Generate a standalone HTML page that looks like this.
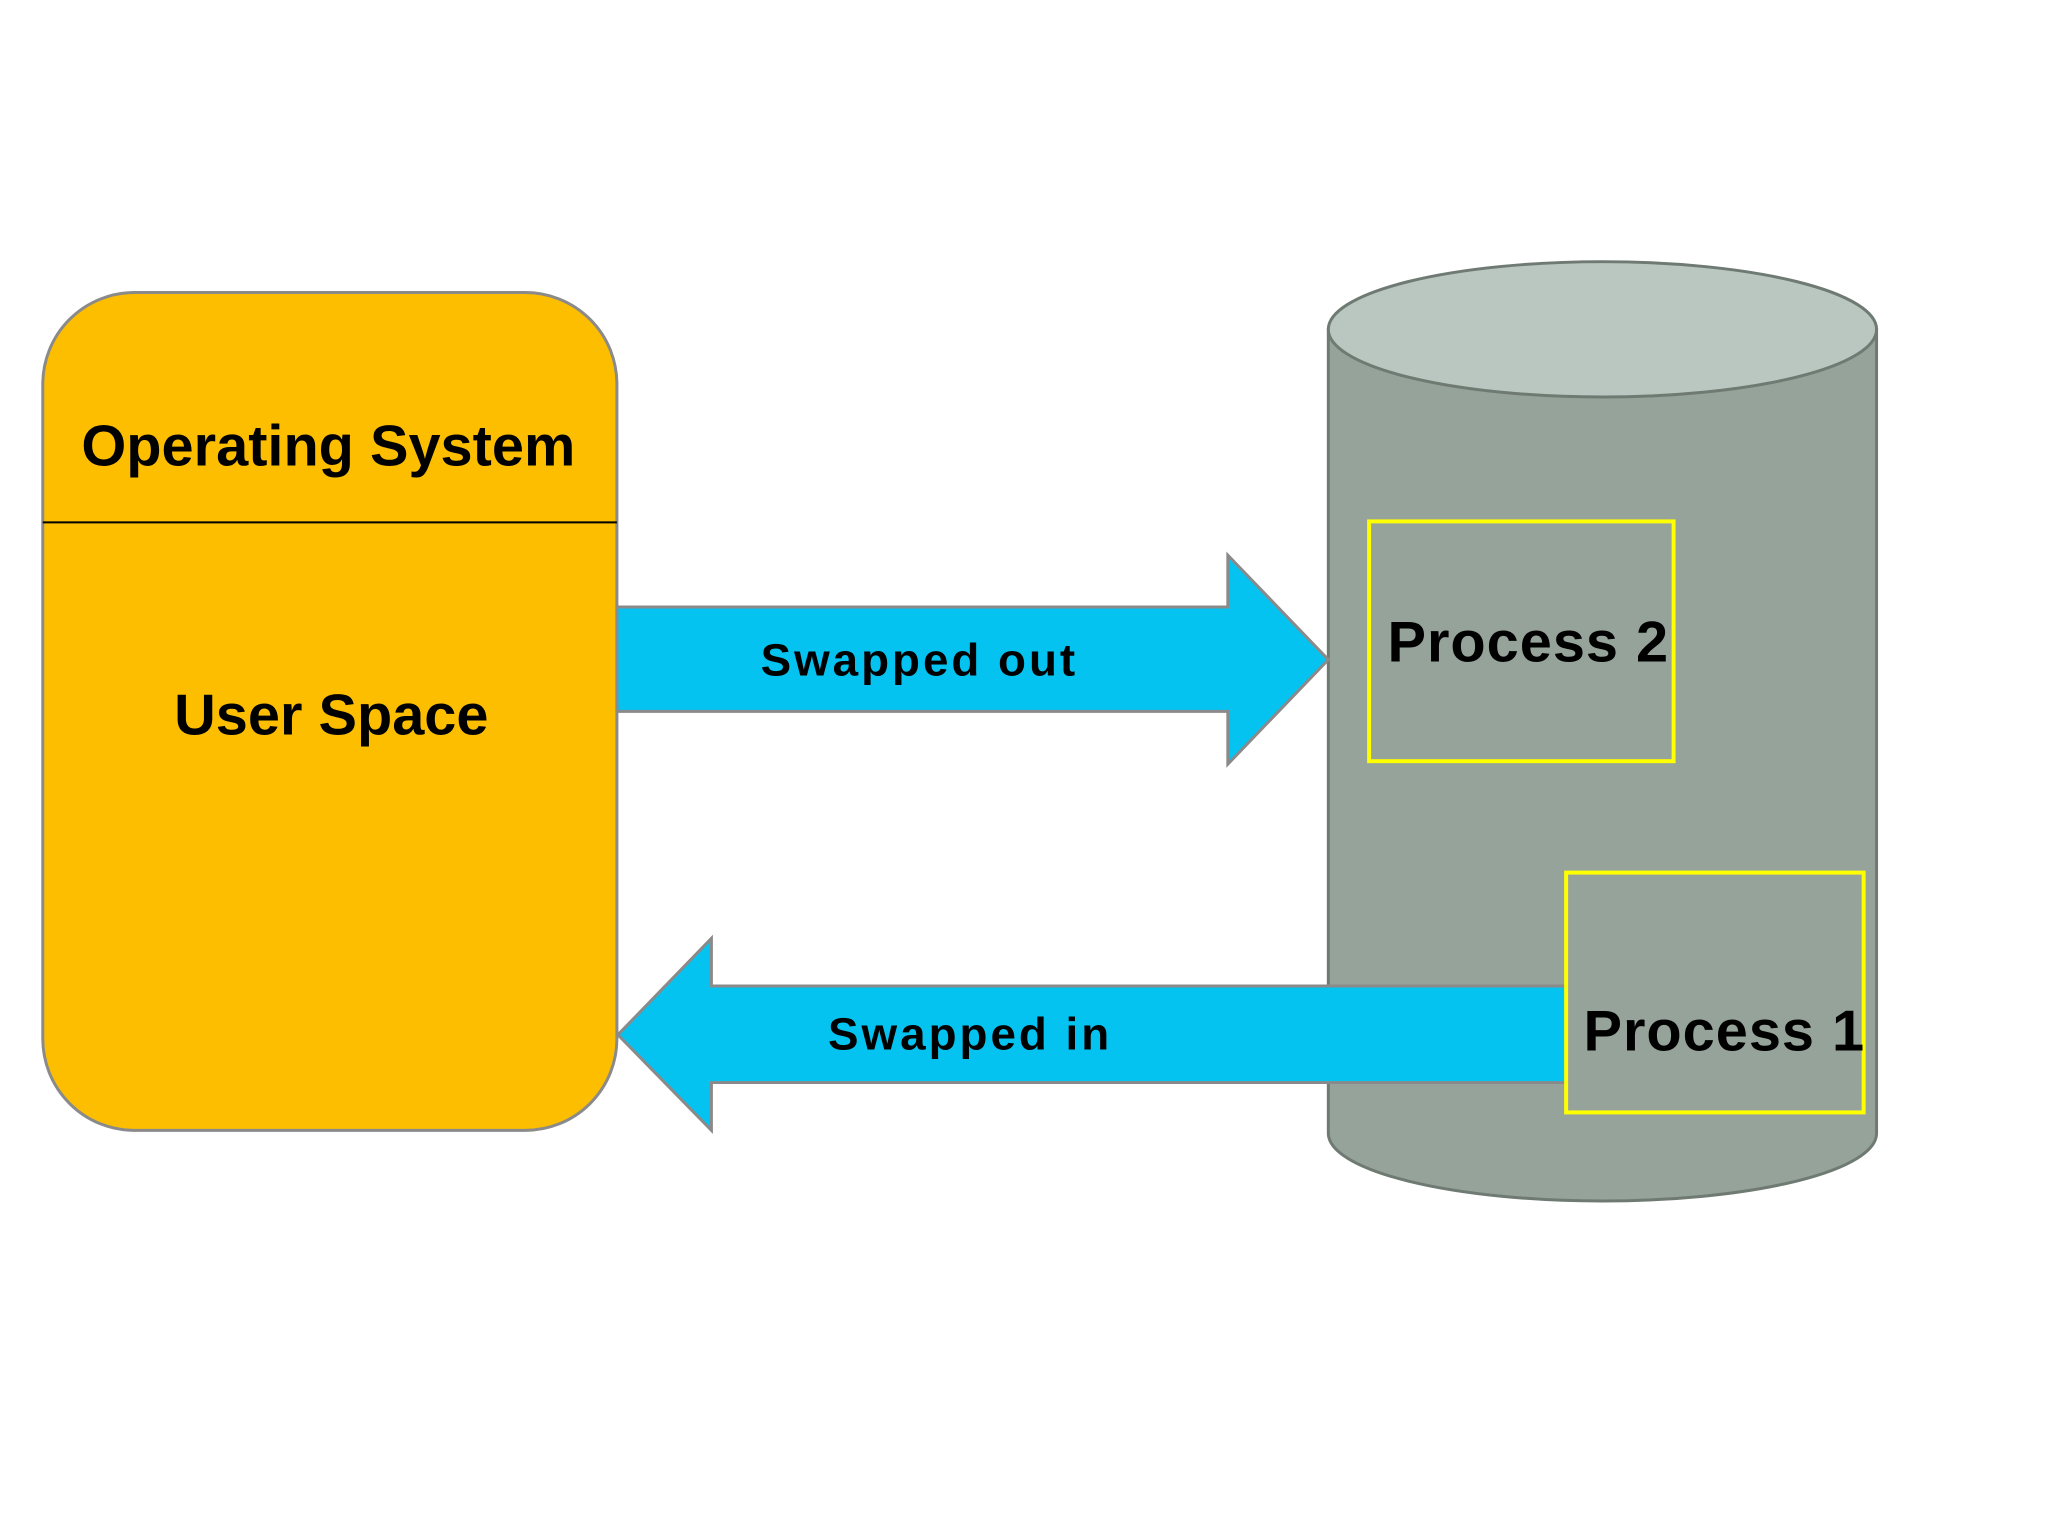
<!DOCTYPE html>
<html><head><meta charset="utf-8"><style>html,body{margin:0;padding:0;background:#fff}svg{display:block}</style></head>
<body>
<svg width="2048" height="1536" viewBox="0 0 2048 1536" xmlns="http://www.w3.org/2000/svg" font-family="'Liberation Sans',sans-serif" font-weight="bold">
<rect width="2048" height="1536" fill="#fff"/>
<g transform="scale(0.995)">
<!-- cylinder -->
<path d="M1335 331 L1335 1139 A275.5 68 0 0 0 1886 1139 L1886 331 Z" fill="#95A39A" stroke="#6f7a73" stroke-width="3"/>
<ellipse cx="1610.5" cy="331" rx="275.5" ry="68" fill="#BAC6C0" stroke="#6f7a73" stroke-width="3"/>
<!-- OS box -->
<rect x="43" y="294" width="577" height="842" rx="92" fill="#FDBE00" stroke="#8a8a8a" stroke-width="3"/>
<line x1="43" y1="525" x2="620" y2="525" stroke="#000" stroke-width="2"/>
<text x="330" y="468" font-size="58" text-anchor="middle" fill="#000">Operating System</text>
<text x="333" y="738" font-size="58" text-anchor="middle" fill="#000">User Space</text>
<!-- arrow out -->
<path d="M620 610 L1234 610 L1234 558 L1335 663 L1234 768 L1234 715 L620 715 Z" fill="#05C3F0" stroke="#8a8a8a" stroke-width="3"/>
<text x="924" y="679" font-size="46" text-anchor="middle" fill="#000" letter-spacing="3">Swapped out</text>
<!-- arrow in -->
<path d="M1575 991 L715 991 L715 943 L621 1040 L715 1136 L715 1088 L1575 1088 Z" fill="#05C3F0" stroke="#8a8a8a" stroke-width="3"/>
<text x="975" y="1055" font-size="46" text-anchor="middle" fill="#000" letter-spacing="3">Swapped in</text>
<!-- process boxes -->
<rect x="1376" y="524" width="306" height="241" fill="#95A39A" stroke="#FFFF00" stroke-width="4"/>
<text x="1536" y="665" font-size="58" text-anchor="middle" fill="#000" letter-spacing="1">Process 2</text>
<rect x="1574" y="877" width="299" height="241" fill="#95A39A" stroke="#FFFF00" stroke-width="4"/>
<text x="1733" y="1056" font-size="58" text-anchor="middle" fill="#000" letter-spacing="1">Process 1</text>
</g>
</svg>
</body></html>
